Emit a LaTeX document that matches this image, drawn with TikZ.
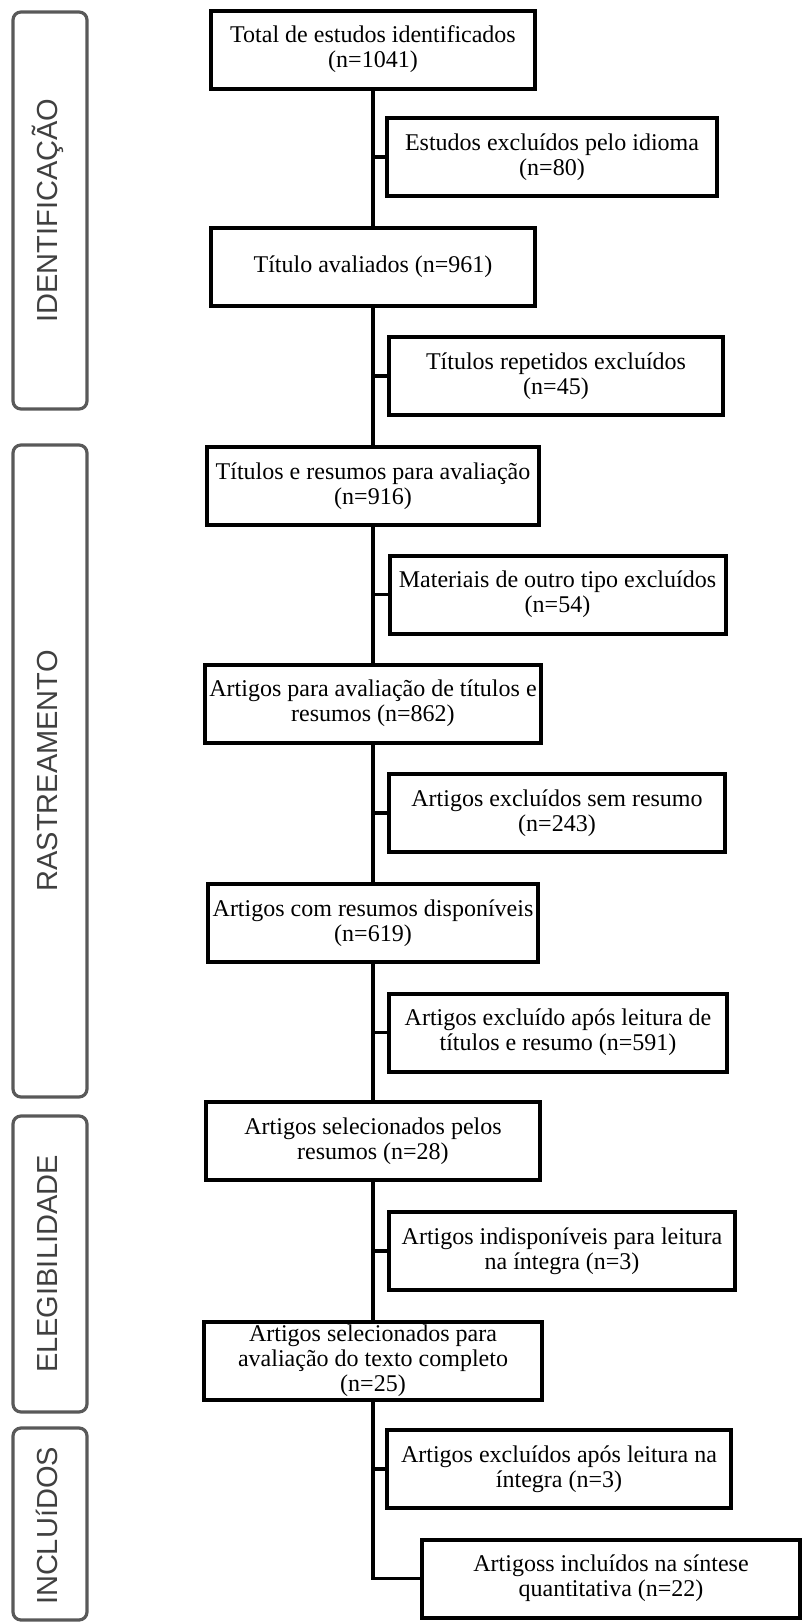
\documentclass[tikz,border=0pt]{standalone}
\usepackage{fontspec}
\setmainfont{Liberation Serif}
\newfontfamily\phasefont{Liberation Sans}

\tikzset{
  mainbox/.style={draw, line width=2pt, align=center, inner sep=0pt,
    minimum width=162pt, minimum height=39pt, text=black,
    font=\fontsize{12}{12.5}\selectfont},
  sidebox/.style={mainbox, minimum width=167pt},
  phasebox/.style={draw=black!65, line width=1.6pt, rounded corners=4pt},
  phaselabel/.style={rotate=90, anchor=base, text=black!75,
    font=\phasefont\fontsize{14.5}{14.5}\selectfont},
  link/.style={line width=1.6pt},
}

\begin{document}
\begin{tikzpicture}[x=0.5pt, y=-0.5pt]
  \useasboundingbox (0,0) rectangle (802,1622);

  % phases on the left
  \draw[phasebox] (13,12) rectangle (87,409);
  \node[phaselabel] (identificacao) at (57,210.5) {IDENTIFICAÇÃO};
  \draw[phasebox] (13,445) rectangle (87,1097);
  \node[phaselabel] (rastreamento) at (57,771) {RASTREAMENTO};
  \draw[phasebox] (13,1116) rectangle (87,1412);
  \node[phaselabel] (elegibilidade) at (57,1264) {ELEGIBILIDADE};
  \draw[phasebox] (13,1428) rectangle (87,1620);
  \node[phaselabel] (incluidosfase) at (57,1526) {INCLUíDOS};

  % main column
  \node[mainbox] (total) at (373,49.5) {Total de estudos identificados\\(n=1041)};
  \node[mainbox] (titulo) at (373,266.5) {Título avaliados (n=961)};
  \node[mainbox, minimum width=166pt] (resumos) at (373,486) {Títulos e resumos para avaliação\\(n=916)};
  \node[mainbox, minimum width=168pt] (avaliacao) at (373,703.5) {Artigos para avaliação de títulos e\\resumos (n=862)};
  \node[mainbox, minimum width=165pt] (disponiveis) at (373,923) {Artigos com resumos disponíveis\\(n=619)};
  \node[mainbox, minimum width=167pt] (selecionados) at (373,1141) {Artigos selecionados pelos\\resumos (n=28)};
  \node[mainbox, minimum width=169pt] (completo) at (373,1360.5) {Artigos selecionados para\\avaliação do texto completo\\(n=25)};

  % exclusions on the right
  \node[sidebox, minimum width=165pt] (idioma) at (552,157) {Estudos excluídos pelo idioma\\(n=80)};
  \node[sidebox] (repetidos) at (556,376) {Títulos repetidos excluídos\\(n=45)};
  \node[sidebox, minimum width=168pt] (materiais) at (557.5,594.5) {Materiais de outro tipo excluídos\\(n=54)};
  \node[sidebox, minimum width=168pt] (semresumo) at (557,813) {Artigos excluídos sem resumo\\(n=243)};
  \node[sidebox, minimum width=169pt] (leitura) at (558,1032.5) {Artigos excluído após leitura de\\títulos e resumo (n=591)};
  \node[sidebox, minimum width=173pt] (indisponiveis) at (562,1251) {Artigos indisponíveis para leitura\\na íntegra (n=3)};
  \node[sidebox, minimum width=172pt] (integra) at (559,1469) {Artigos excluídos após leitura na\\íntegra (n=3)};
  \node[sidebox, minimum width=189pt] (incluidos) at (611,1578.5) {Artigoss incluídos na síntese\\quantitativa (n=22)};

  % trunk
  \draw[link] (total) -- (titulo);
  \draw[link] (titulo) -- (resumos);
  \draw[link] (resumos) -- (avaliacao);
  \draw[link] (avaliacao) -- (disponiveis);
  \draw[link] (disponiveis) -- (selecionados);
  \draw[link] (selecionados) -- (completo);
  \draw[link] (completo.south) |- (incluidos.west);

  % branches
  \foreach \b in {idioma, repetidos, materiais, semresumo, leitura, indisponiveis, integra}
    \draw[link] (\b.west) -- (\b.west -| total.south);
\end{tikzpicture}
\end{document}
